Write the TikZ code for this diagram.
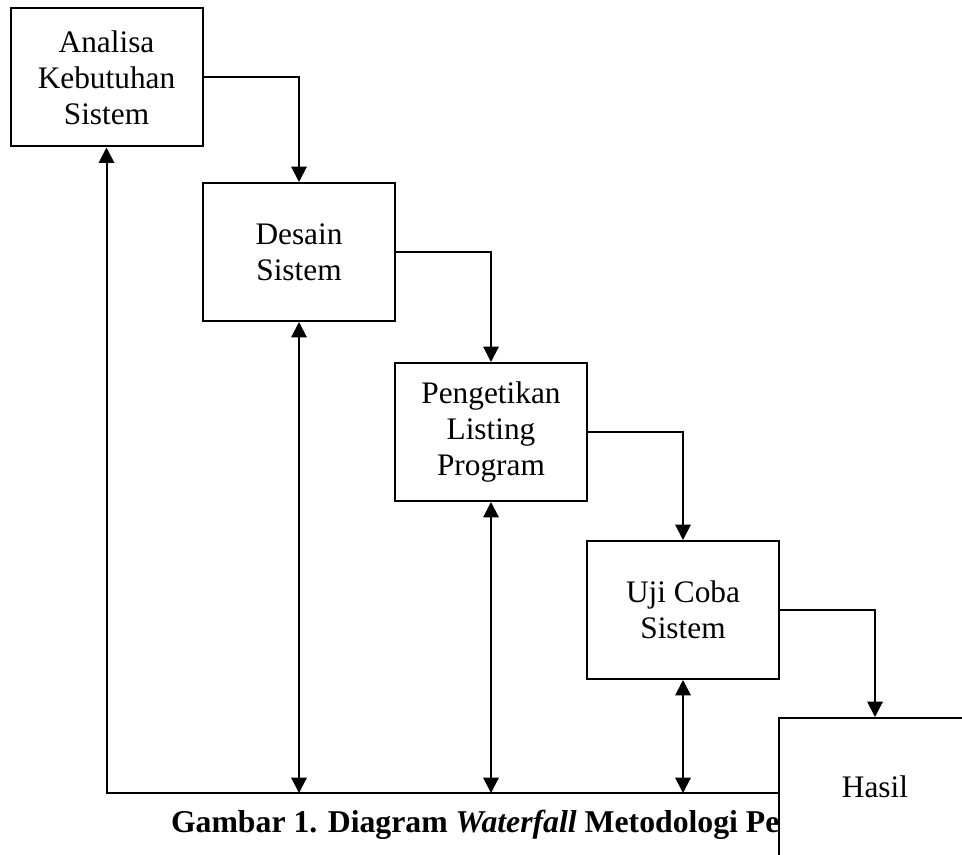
\documentclass[tikz,border=0pt]{standalone}
\usepackage{fontspec}
\setmainfont{Liberation Serif}
\usepackage{tikz}
\usetikzlibrary{arrows.meta}

\begin{document}
\begin{tikzpicture}[x=0.75pt, y=-0.75pt, line width=1.5pt, >={Triangle[length=11.5pt, width=11.5pt]},
	tahap/.style={draw, rectangle, fill=white, minimum width=144pt, minimum height=103.5pt, align=center, inner sep=0pt, font=\fontsize{23.5}{27}\selectfont},
	judul/.style={anchor=base west, inner sep=0pt, font=\fontsize{23.8}{27}\selectfont\bfseries}]
\useasboundingbox (0,0) rectangle (962,855);
\clip (0,0) rectangle (962,855);
\node[tahap] (analisa) at (106.5,77.5) {Analisa\\Kebutuhan\\Sistem};
\node[tahap] (desain) at (299,252) {Desain\\Sistem};
\node[tahap] (pengetikan) at (491,432) {Pengetikan\\Listing\\Program};
\node[tahap] (uji) at (683,610) {Uji Coba\\Sistem};
\node[judul] (caption) at (170,832) {Gambar 1. Diagram \textit{Waterfall} Metodologi Pe};
\node[tahap] (hasil) at (875,787) {Hasil};
\coordinate (base) at (0,793);
% aliran turun
\draw[->] (analisa.east) -| (desain.north);
\draw[->] (desain.east) -| (pengetikan.north);
\draw[->] (pengetikan.east) -| (uji.north);
\draw[->] (uji.east) -| (hasil.north);
% umpan balik
\draw[->] (hasil.west |- base) -- (analisa.south |- base) -- (analisa.south);
\draw[<->] (desain.south) -- (desain.south |- base);
\draw[<->] (pengetikan.south) -- (pengetikan.south |- base);
\draw[<->] (uji.south) -- (uji.south |- base);
\end{tikzpicture}
\end{document}
